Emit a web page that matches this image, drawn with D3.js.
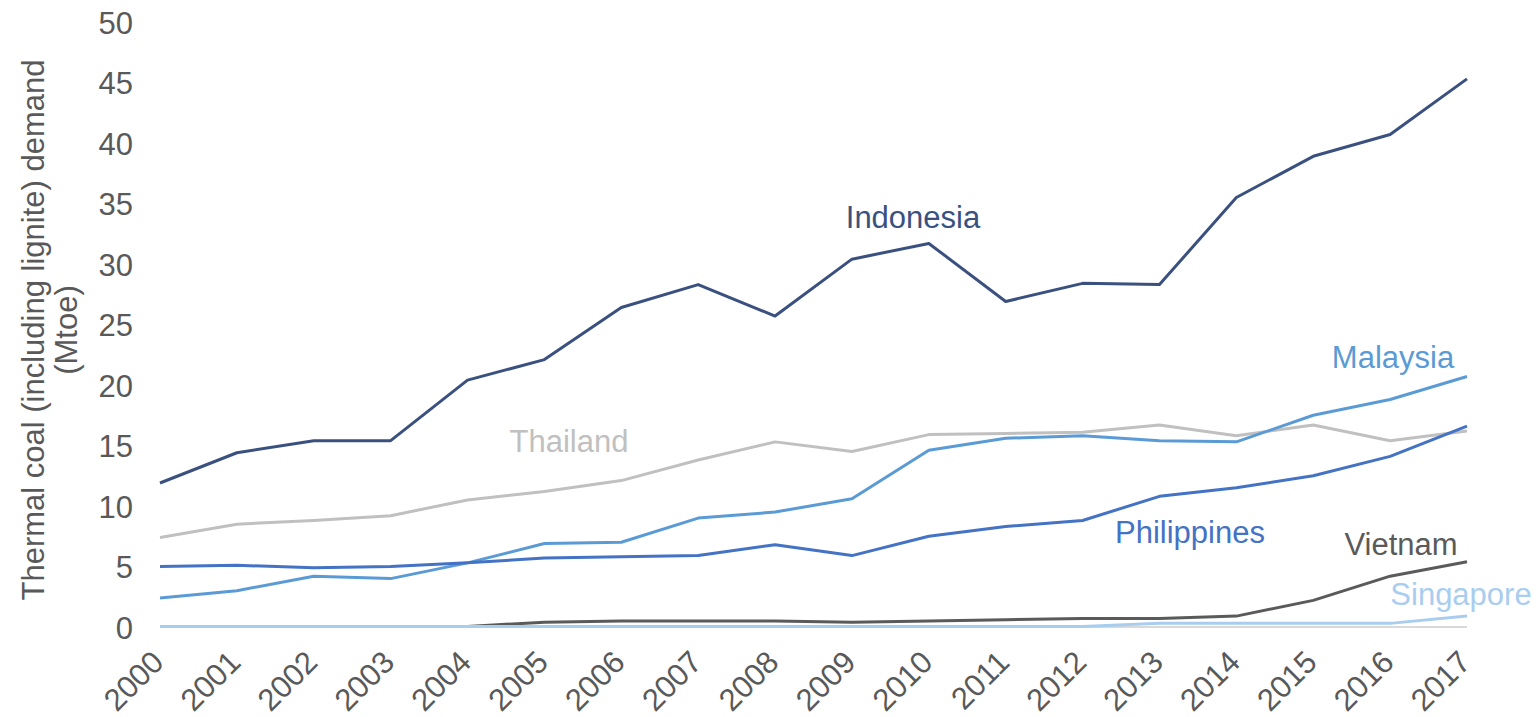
<!DOCTYPE html>
<html><head><meta charset="utf-8">
<script src="https://cdn.jsdelivr.net/npm/d3@7"></script>
<style>body{margin:0;background:#fff;}svg{display:block;font-family:"Liberation Sans",Arial,sans-serif;}</style>
</head><body><svg id="c" width="1539" height="717"></svg>
<script>
const years = [2000,2001,2002,2003,2004,2005,2006,2007,2008,2009,2010,2011,2012,2013,2014,2015,2016,2017];
const yTicks = [0,5,10,15,20,25,30,35,40,45,50];
const indonesia   = [11.9,14.4,15.4,15.4,20.4,22.1,26.4,28.3,25.7,30.4,31.7,26.9,28.4,28.3,35.5,38.9,40.7,45.3];
const thailand    = [7.4,8.5,8.8,9.2,10.5,11.2,12.1,13.8,15.3,14.5,15.9,16.0,16.1,16.7,15.8,16.7,15.4,16.2];
const malaysia    = [2.4,3.0,4.2,4.0,5.3,6.9,7.0,9.0,9.5,10.6,14.6,15.6,15.8,15.4,15.3,17.5,18.8,20.7];
const philippines = [5.0,5.1,4.9,5.0,5.3,5.7,5.8,5.9,6.8,5.9,7.5,8.3,8.8,10.8,11.5,12.5,14.1,16.6];
const vietnam     = [0.05,0.05,0.05,0.05,0.05,0.4,0.5,0.5,0.5,0.4,0.5,0.6,0.7,0.7,0.9,2.2,4.2,5.4];
const singapore   = [0.05,0.05,0.05,0.05,0.05,0.05,0.05,0.05,0.05,0.05,0.05,0.05,0.05,0.3,0.3,0.3,0.3,0.9];
const seriesNames = ["Indonesia","Thailand","Malaysia","Philippines","Vietnam","Singapore"];
const seriesVals  = [indonesia,thailand,malaysia,philippines,vietnam,singapore];
const seriesCols  = ["#3a5180","#c0c0c0","#5b9bd5","#4472c4","#5a5a5a","#a9cdee"];
const labelPos = [[913,228],[569,452],[1393,368],[1190,543],[1401,555],[1461,605]];

const svg = d3.select("#c");
const x = d3.scaleLinear().domain([2000,2017]).range([160,1467]);
const y = d3.scaleLinear().domain([0,50]).range([627,22]);

// baseline
svg.append("line").attr("x1",x(2000)).attr("x2",x(2017)).attr("y1",y(0)).attr("y2",y(0))
  .attr("stroke","#d9d9d9").attr("stroke-width",2);

const yAxis = svg.append("g").attr("transform","translate(133,0)")
  .call(d3.axisLeft(y).tickValues(yTicks).tickSize(0).tickPadding(0));
yAxis.select(".domain").remove();
yAxis.selectAll("text").attr("fill","#595959").style("font-size","31px").attr("dy","0.36em");

const xAxis = svg.append("g").attr("transform","translate(0,627)")
  .call(d3.axisBottom(x).tickValues(years).tickFormat(d3.format("d")).tickSize(0));
xAxis.select(".domain").remove();
xAxis.selectAll("text").attr("fill","#595959").style("font-size","31px")
  .attr("text-anchor","end").attr("dy",null).attr("y",0)
  .attr("transform","translate(5,37) rotate(-45)");

const line = d3.line().x((d,i)=>x(years[i])).y(d=>y(d));
const order = [4,5,1,2,3,0];
order.forEach(k=>{
  svg.append("path").datum(seriesVals[k]).attr("d",line).attr("fill","none")
    .attr("stroke",seriesCols[k]).attr("stroke-width",3).attr("stroke-linejoin","round");
});
seriesNames.forEach((n,k)=>{
  svg.append("text").attr("x",labelPos[k][0]).attr("y",labelPos[k][1]).attr("text-anchor","middle")
    .attr("fill",seriesCols[k]).style("font-size","31px").text(n);
});

const t = svg.append("text").attr("transform","translate(44,330) rotate(-90)").attr("text-anchor","middle")
  .attr("fill","#595959").style("font-size","31px");
t.append("tspan").attr("x",0).attr("y",0).text("Thermal coal (including lignite) demand");
t.append("tspan").attr("x",0).attr("y",33).text("(Mtoe)");
</script></body></html>
